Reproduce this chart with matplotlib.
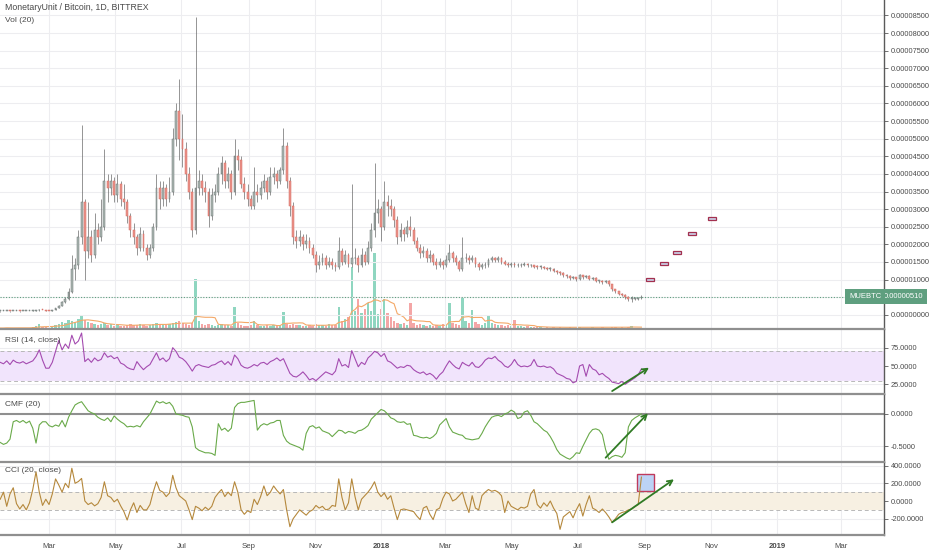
import numpy as np
import pandas as pd
import matplotlib
matplotlib.use("Agg")
import matplotlib.pyplot as plt
import matplotlib.dates as mdates
from matplotlib.patches import Rectangle
from matplotlib.lines import Line2D
import matplotlib.transforms as mtrans

plt.rcParams['font.family'] = ['Liberation Sans', 'DejaVu Sans']

W, H = 932, 550

# 3-day candles, prices in units of 1e-6 BTC
dates = pd.date_range('2017-01-15', periods=198, freq='3D')

close = [1.0, 1.0, 1.05, 1.0, 1.0, 1.05, 1.0, 1.0, 1.0, 1.05,
         1.1, 1.2, 1.4, 1.3, 1.1, 1.0, 1.3, 1.9, 2.5, 3.5,
         4.5, 6.5, 13, 14, 22, 32, 18, 22, 17, 24,
         22, 25, 38, 36, 38, 34, 37, 33, 32, 28,
         24, 22, 19, 23, 19, 17, 19, 25, 36, 33,
         36, 33, 35, 50, 58, 50, 47, 40, 35, 24,
         36, 38, 36, 35, 28, 34, 35, 40, 43, 38,
         40, 35, 45, 44, 37, 35, 33, 31, 35, 34,
         36, 38, 35, 39, 40, 38, 41, 48, 38, 31,
         22, 21, 22, 20, 21, 19, 17, 14, 15, 16,
         14, 15, 14, 13.5, 18, 15, 17, 14.5, 16, 16,
         14, 17, 15, 19, 24, 29, 30, 25, 32, 31,
         30, 27, 22, 24, 23, 25, 24, 21, 19, 17.5,
         18, 16, 17, 15, 14, 15, 14, 15.5, 17.5, 16,
         15, 13, 16, 16, 15.5, 16, 14.5, 13.5, 14, 14,
         15.5, 16, 15.5, 16, 15, 14.5, 14, 14.5, 14, 14,
         14.2, 14.5, 14, 14, 13.6, 13.5, 13.6, 13.3, 13, 13,
         12.5, 12, 11.8, 11.2, 11, 10.5, 10.6, 10.2, 11.2, 10.8,
         11, 10.2, 10.5, 9.6, 9.6, 9.2, 9.6, 8.6, 7.2, 6.6,
         6, 5.6, 5, 4.5, 4.6, 4.6, 4.8, 5.1]

high = [1.15, 1.1, 1.15, 1.1, 1.1, 1.15, 1.1, 1.1, 1.1, 1.15,
        1.2, 1.3, 1.5, 1.45, 1.3, 1.15, 1.4, 2.0, 2.7, 3.8,
        4.9, 7.5, 17, 16, 24, 54, 33, 32, 24, 29,
        26, 33, 47, 40, 40, 39, 40, 38, 37, 33,
        29, 26, 23, 25, 24, 20, 20, 26, 40, 38,
        38, 37, 39, 53, 60, 67, 57, 49, 42, 36,
        84.5, 41, 40, 38, 36, 36, 37, 42, 45, 44,
        42, 41, 50, 47, 45, 39, 37, 34, 42, 37,
        38, 40, 39, 42, 42, 41, 42, 53, 49, 39,
        32, 24, 24, 23, 23, 22, 20, 18, 17, 17.5,
        17, 16.5, 16, 15, 22, 19, 18.5, 17.5, 37, 19,
        17, 19, 18, 21, 26, 43, 33, 31, 38, 34,
        33, 31, 28, 26, 25, 27, 28, 25, 22, 20,
        19.5, 19, 18.5, 17.5, 16, 16, 15.5, 17, 20, 18,
        17, 15.5, 22, 17.5, 17, 17, 16.5, 15, 14.8, 15,
        16, 16.8, 16.5, 16.7, 16.3, 15.5, 15, 15, 15, 14.6,
        14.8, 15, 14.8, 14.5, 14.2, 14, 14, 13.9, 13.6, 13.5,
        13.2, 12.7, 12.3, 12, 11.5, 11.3, 11, 10.8, 11.6, 11.4,
        11.4, 11.2, 10.8, 10.6, 10, 9.8, 9.9, 9.8, 8.8, 7.4,
        6.8, 6.2, 5.8, 5.2, 5.3, 5.0, 5.0, 5.6]

low = [0.9, 0.95, 0.95, 0.9, 0.95, 0.95, 0.9, 0.95, 0.95, 0.95,
       1.0, 1.05, 1.15, 1.2, 1.0, 0.95, 0.95, 1.25, 1.8, 2.4,
       3.3, 4.3, 6.3, 10, 13, 20, 10, 16, 15, 16,
       20, 21, 24, 32, 34, 32, 32, 31, 30, 26,
       22, 20, 17, 18, 18, 15.5, 16, 18, 24, 30,
       31, 31, 32, 34, 48, 44, 42, 38, 33, 22,
       23, 34, 34, 32, 25, 27, 32, 34, 37, 36,
       36, 33, 34, 41, 36, 33, 31, 30, 30, 32,
       33, 35, 33, 34, 37, 36, 37, 40, 36, 28,
       20, 19, 19.5, 18.5, 19, 17.5, 16, 12, 13, 14,
       13, 13.5, 13, 12.5, 13, 14, 14.5, 13.5, 13.5, 14.5,
       12, 13.5, 14, 14.5, 18, 22, 26, 21, 24, 28,
       28, 25, 20, 21, 21, 22, 22.5, 20, 18, 16,
       16.5, 15, 15, 14, 13, 13.5, 13, 13.5, 15, 15,
       14, 12.5, 12.5, 15, 14.5, 15, 13.5, 12.8, 13, 13.4,
       13.5, 15, 15, 15, 14.5, 14, 13.5, 13.6, 13.5, 13.5,
       13.6, 13.9, 13.6, 13.5, 13.2, 13, 13, 12.9, 12.6, 12.5,
       12, 11.6, 11.2, 10.8, 10.5, 10, 10.1, 9.7, 10, 10.2,
       10.4, 9.8, 9.9, 9.2, 9.0, 8.8, 9.0, 8.2, 6.8, 6.2,
       5.6, 5.2, 4.6, 4.0, 3.5, 4.2, 4.3, 4.5]

volume = [1, 1, 1.5, 1, 1, 1.5, 1, 1, 1, 1.5,
          2, 3, 5, 2, 2, 1.5, 2, 4, 5, 7,
          6, 9, 8, 7, 10, 14, 9, 7, 6, 5,
          4, 5, 6, 4, 5, 3, 4, 3, 3, 4,
          5, 4, 4, 5, 4, 3, 4, 5, 6, 5,
          5, 4, 5, 6, 7, 8, 6, 5, 4, 6,
          50, 8, 5, 4, 5, 4, 3, 4, 5, 4,
          4, 3, 22, 6, 4, 3, 3, 4, 8, 4,
          3, 3, 4, 3, 4, 3, 4, 17, 5, 4,
          5, 4, 4, 3, 3, 4, 3, 5, 4, 4,
          3, 5, 4, 4, 22, 8, 10, 12, 62, 18,
          30, 16, 20, 26, 18, 76, 15, 20, 30, 16,
          12, 8, 6, 5, 6, 4, 26, 6, 4, 5,
          4, 3, 4, 3, 4, 3, 5, 4, 26, 6,
          5, 4, 32, 8, 6, 19, 7, 5, 4, 6,
          14, 6, 5, 4, 4, 3, 4, 3, 9, 3,
          3, 2, 3, 2, 2, 2, 2, 1.5, 2, 1.5,
          2, 1.5, 2, 1.5, 1.5, 2, 1.5, 1.5, 2, 1.5,
          1.5, 1.5, 2, 1.5, 1.5, 2, 1.5, 1.5, 2, 2,
          1.5, 2, 1.5, 2, 3, 1.5, 1.5, 1.5]

rsi = [55, 53, 57, 52, 58, 55, 54, 56, 53, 55,
       57, 63, 72, 58, 47, 47, 55, 70, 85, 72,
       80, 74, 92, 80, 84, 95, 56, 60, 55, 61,
       57, 59, 68, 62, 64, 60, 62, 54, 52, 48,
       46, 45, 56, 50, 45, 49, 52, 60, 68, 58,
       61, 56, 60, 75, 70, 62, 60, 56, 50, 43,
       50, 52, 50, 49, 48, 51, 52, 55, 57, 52,
       56, 51, 65, 60, 51, 48, 47, 49, 52, 50,
       54, 55, 52, 56, 58, 61, 57, 60, 50, 40,
       36, 35, 38, 42, 37, 31, 33, 30, 34, 38,
       42, 40, 38, 43, 60, 50, 52, 48, 71, 60,
       49, 55, 52, 61, 65, 70, 68, 63, 67, 57,
       55, 51, 47, 49, 48, 51, 50, 45, 42, 40,
       42, 38, 40, 37, 32, 38, 42, 50, 57, 52,
       48, 46, 55, 52, 50, 55, 49, 48, 52, 58,
       61, 60, 63, 58, 55, 50, 48, 52, 59, 52,
       49, 50, 49, 51, 59, 50, 49, 50, 48, 49,
       46, 40, 38, 36, 33, 32, 27, 29, 50, 52,
       36, 52, 46, 44, 38, 40, 36, 33, 28, 27,
       26, 29, 25, 28, 31, 34, 38, 46]

cmf = [-0.44, -0.47, -0.45, -0.39, -0.12, -0.1, -0.13, -0.1, -0.14, -0.11,
       -0.22, -0.45, -0.17, -0.12, -0.12, -0.18, -0.2, -0.17, -0.19, -0.1,
       -0.2, -0.05, 0.05, 0.14, 0.17, 0.19, 0.12, 0.05, 0.02, 0.0,
       -0.05, -0.08, -0.1, -0.06, -0.12, -0.03, -0.08, -0.12, -0.15, -0.2,
       -0.19, -0.2, -0.18, -0.2, -0.12, -0.06, 0.0, 0.1, 0.2, 0.17,
       0.19, 0.16, 0.18, 0.12, 0.0, -0.01, -0.02, -0.04, -0.05, -0.2,
       -0.52, -0.56, -0.58, -0.6, -0.6, -0.61, -0.64, -0.15, -0.25, -0.22,
       -0.27, -0.22, 0.1, 0.16, 0.18, 0.18, 0.19, 0.2, 0.21, -0.25,
       -0.18, -0.15, -0.17, -0.14, -0.13, -0.1, -0.1, -0.33, -0.42, -0.46,
       -0.48, -0.5, -0.52, -0.56, -0.3, -0.2, -0.18, -0.22, -0.2, -0.26,
       -0.28, -0.3, -0.35, -0.3, -0.25, -0.26, -0.3, -0.27, -0.28, -0.3,
       -0.26, -0.25, -0.22, -0.18, -0.08, -0.03, 0.02, 0.07, 0.05, 0.0,
       -0.06, -0.08, -0.12, -0.13, -0.12, -0.16, -0.15, -0.33, -0.34, -0.36,
       -0.37, -0.36, -0.38, -0.35, -0.3, -0.17, -0.12, -0.07, -0.2, -0.28,
       -0.3, -0.32, -0.33, -0.38, -0.39, -0.4, -0.39, -0.38, -0.3, -0.2,
       -0.12, -0.05, -0.03, -0.02, -0.04, 0.0, 0.02, 0.06, 0.03, -0.07,
       -0.05, 0.03, 0.05, -0.02, -0.12, -0.15, -0.2, -0.25, -0.28, -0.35,
       -0.44, -0.55, -0.62, -0.65, -0.68, -0.7, -0.66, -0.6, -0.61, -0.5,
       -0.4, -0.3, -0.24, -0.23, -0.25, -0.32, -0.55, -0.7, -0.66, -0.64,
       -0.65, -0.67, -0.6, -0.2, -0.1, -0.06, -0.03, 0.0]

cci = [20, 100, -60, 80, 150, -30, -90, -40, -100, -20,
       130, 330, 100, -50, 20, -40, 80, 250, 180, 100,
       200, 150, 370, 200, 220, 255, 0, -40, -20, -55,
       -30, 40, 217, 60, 40, -10, 20, -55, -120, -215,
       -100, -20, -130, -50, -100, -100, -40, 100, 217, 120,
       100, 50, 90, 290, 150, 60, 30, 0, -100, -210,
       -60, -80, -110, -70, -100, -60, 40, 90, 130, 50,
       100, 60, 217, 100, -100, -150, -110, -130, 20, -40,
       50, 170, 60, 100, 170, 120, 80, 130, -100, -290,
       -200, -150, -100, -130, -160, -120, -100, -50, -80, -60,
       -100, -90, -50, -60, 250, 40, -100, -20, 250, 50,
       -100, 20, 60, 100, 150, 217, 100, 50, 90, 20,
       60, -80, -210, -100, -90, -100, -110, -120, -170, -210,
       -80, -60, -150, -210, -100, -80, 30, 100, 80, 0,
       20, 60, 100, -30, -130, 60, -80, -100, 60, 100,
       130, 110, 120, 100, 60, -130, 0, -60, -80, -100,
       -70, -80, -60, 80, 130, -40, -80, -20, -60, 0,
       -80, -140, -320, -180, -150, -120, -190, -100, -30, -170,
       -40, 60, -80, -100, -130, -90, -130, -180, -240, -200,
       -150, -130, -120, -100, -90, -60, -40, 270]

# drawn target boxes on the price pane
box_dates = ['2018-09-06', '2018-09-19', '2018-10-01', '2018-10-15', '2018-11-02']
box_prices = [10.1, 14.5, 17.7, 23.1, 27.3]
last_price = 5.10

# trend arrows: (start date, start value, end date, end value)
rsi_arrow = ('2018-08-02', 15.8, '2018-09-05', 47.7)
cmf_arrow = ('2018-07-27', -0.676, '2018-09-04', 0.011)
cci_arrow = ('2018-08-02', -241, '2018-09-28', 245)
cci_box = ('2018-08-24 16:00', '2018-09-09 22:00', 113, 302)

tick_dates = ['2017-03-01', '2017-05-01', '2017-07-01', '2017-09-01', '2017-11-01',
              '2018-01-01', '2018-03-01', '2018-05-01', '2018-07-01', '2018-09-01',
              '2018-11-01', '2019-01-01', '2019-03-01']
tick_labels = ['Mar', 'May', 'Jul', 'Sep', 'Nov', '2018', 'Mar', 'May', 'Jul', 'Sep',
               'Nov', '2019', 'Mar']

TXT = '#4a4a4a'
GRID = '#ededf0'
SEP = '#8f8f8f'
TAG = '#5f9f7f'
RIGHT = 884

fig = plt.figure(figsize=(W / 100, H / 100), dpi=100)


def pane(top, bottom, share=None):
    return fig.add_axes([0, 1 - bottom / H, RIGHT / W, (bottom - top) / H], sharex=share)


ax = pane(0, 329)
ax_rsi = pane(329, 393.7, ax)
ax_cmf = pane(393.7, 461.7, ax)
ax_cci = pane(461.7, 535, ax)

xd = mdates.date2num(dates)
c = np.array(close, dtype=float)
o = np.r_[c[0], c[:-1]]
hi = np.maximum(np.array(high, dtype=float), np.maximum(o, c))
lo = np.minimum(np.array(low, dtype=float), np.minimum(o, c))
up = c >= o

# volume on a hidden twin axis (bottom of the price pane)
ax_v = ax.twinx()
ax_v.bar(xd, volume, width=2.2, color=np.where(up, '#8fd6c0', '#f4a6a6'), linewidth=0)
vol_ma = pd.Series(volume).rolling(7, min_periods=1).mean()
ax_v.plot(xd, vol_ma, color='#f4a867', lw=0.8)
ax_v.set_ylim(0, 329)
ax_v.set_yticks([])
for s in ax_v.spines.values():
    s.set_visible(False)
ax.set_zorder(ax_v.get_zorder() + 1)
ax.patch.set_visible(False)

# candles
ax.vlines(xd, lo, hi, color='#6a6a6a', lw=0.5, zorder=3)
body_h = np.maximum(np.abs(c - o), 0.25)
ax.bar(xd, body_h, bottom=np.minimum(o, c), width=1.7,
       color=np.where(up, '#aeb8b5', '#ec948b'),
       edgecolor=np.where(up, '#68736f', '#d36a60'), linewidth=0.35, zorder=4)

ax.axhline(last_price, color=TAG, lw=0.8, ls=(0, (1, 1.5)), zorder=2)
for d, p in zip(box_dates, box_prices):
    x0 = mdates.date2num(pd.Timestamp(d)) - 3.7
    ax.add_patch(Rectangle((x0, p - 0.42), 7.4, 0.84, facecolor='#c9cfe6',
                           edgecolor='#a3304f', lw=0.9, zorder=5))

ax.set_ylim(-4.06, 89.4)
price_ticks = np.arange(0, 86, 5)
ax.set_yticks(price_ticks)
# the 0.00000500 label sits under the last-price tag
ax.set_yticklabels(['' if v == 5 else f"{v * 1e-6:.8f}" for v in price_ticks])

# last price tags
tr = mtrans.blended_transform_factory(ax.transAxes, ax.transData)
ax.text(1.0, last_price, '0.00000510', transform=tr, ha='left', va='center', color='white',
        fontsize=5.5, clip_on=False, zorder=10,
        bbox=dict(boxstyle='square,pad=0.5', fc=TAG, ec='none'))
ax.text(0.997, last_price, 'MUEBTC', transform=tr, ha='right', va='center', color='white',
        fontsize=5.5, zorder=10, bbox=dict(boxstyle='square,pad=0.5', fc=TAG, ec='none'))

# RSI
ax_rsi.axhspan(30, 70, color='#f1e4fc', lw=0)
for lvl in (70, 30):
    ax_rsi.axhline(lvl, color='#b8b8b8', lw=0.7, ls=(0, (4, 3)))
ax_rsi.plot(xd, rsi, color='#a44bb0', lw=0.8)
ax_rsi.set_ylim(12.2, 100.5)
ax_rsi.set_yticks([25, 50, 75])
ax_rsi.set_yticklabels(['25.0000', '50.0000', '75.0000'])

# CMF
ax_cmf.axhline(0, color=SEP, lw=1.5)
ax_cmf.plot(xd, cmf, color='#6aaa4a', lw=0.8)
ax_cmf.set_ylim(-0.738, 0.314)
ax_cmf.set_yticks([0, -0.5])
ax_cmf.set_yticklabels(['0.0000', '-0.5000'])

# CCI
ax_cci.axhspan(-100, 100, color='#f7f0e2', lw=0)
for lvl in (100, -100):
    ax_cci.axhline(lvl, color='#b8b8b8', lw=0.7, ls=(0, (4, 3)))
ax_cci.plot(xd, cci, color='#b5883c', lw=0.8)
b0, b1 = mdates.date2num(pd.Timestamp(cci_box[0])), mdates.date2num(pd.Timestamp(cci_box[1]))
ax_cci.add_patch(Rectangle((b0, cci_box[2]), b1 - b0, cci_box[3] - cci_box[2],
                           facecolor='#bcd3f6', edgecolor='#c03a5c', lw=1.0, zorder=1.5))
ax_cci.set_ylim(-384, 444)
ax_cci.set_yticks([400, 200, 0, -200])
ax_cci.set_yticklabels(['400.0000', '200.0000', '0.0000', '-200.0000'])

for a, arr in ((ax_rsi, rsi_arrow), (ax_cmf, cmf_arrow), (ax_cci, cci_arrow)):
    p0 = (mdates.date2num(pd.Timestamp(arr[0])), arr[1])
    p1 = (mdates.date2num(pd.Timestamp(arr[2])), arr[3])
    a.annotate('', xy=p1, xytext=p0, annotation_clip=False,
               arrowprops=dict(arrowstyle='->', color='#2f7a24', lw=1.3,
                               mutation_scale=9, shrinkA=0, shrinkB=0))

# common styling
ax.set_xlim(mdates.date2num(pd.Timestamp('2017-01-14 19:00')),
            mdates.date2num(pd.Timestamp('2019-04-09 14:00')))
ax.set_xticks(mdates.date2num(pd.to_datetime(tick_dates)))
for a in (ax, ax_rsi, ax_cmf, ax_cci):
    a.grid(True, color=GRID, lw=0.8)
    a.set_axisbelow(True)
    for side in ('top', 'bottom', 'left'):
        a.spines[side].set_visible(False)
    a.spines['right'].set_color('#5a5a5a')
    a.spines['right'].set_linewidth(1.0)
    a.tick_params(axis='y', left=False, labelleft=False, right=True, labelright=True,
                  length=3, width=0.6, color='#5a5a5a', labelsize=5.3, labelcolor=TXT, pad=2)
    a.tick_params(axis='x', length=0, labelbottom=False)
ax_cci.tick_params(axis='x', labelbottom=True, labelsize=5.6, labelcolor=TXT, pad=6)
ax_cci.set_xticklabels(tick_labels)
for lab in ax_cci.get_xticklabels():
    if lab.get_text() in ('2018', '2019'):
        lab.set_fontweight('bold')

for y in (329, 393.7, 461.7, 535):
    fig.add_artist(Line2D([0, RIGHT / W], [1 - y / H, 1 - y / H], color=SEP, lw=1.6))

fig.text(5 / W, 1 - 8 / H, 'MonetaryUnit / Bitcoin, 1D, BITTREX', fontsize=6.3, color=TXT, va='center')
fig.text(5 / W, 1 - 21 / H, 'Vol (20)', fontsize=6, color=TXT, va='center')
fig.text(5 / W, 1 - 340 / H, 'RSI (14, close)', fontsize=6, color=TXT, va='center')
fig.text(5 / W, 1 - 404 / H, 'CMF (20)', fontsize=6, color=TXT, va='center')
fig.text(5 / W, 1 - 471 / H, 'CCI (20, close)', fontsize=6, color=TXT, va='center')

fig.savefig('out.png', dpi=100)
